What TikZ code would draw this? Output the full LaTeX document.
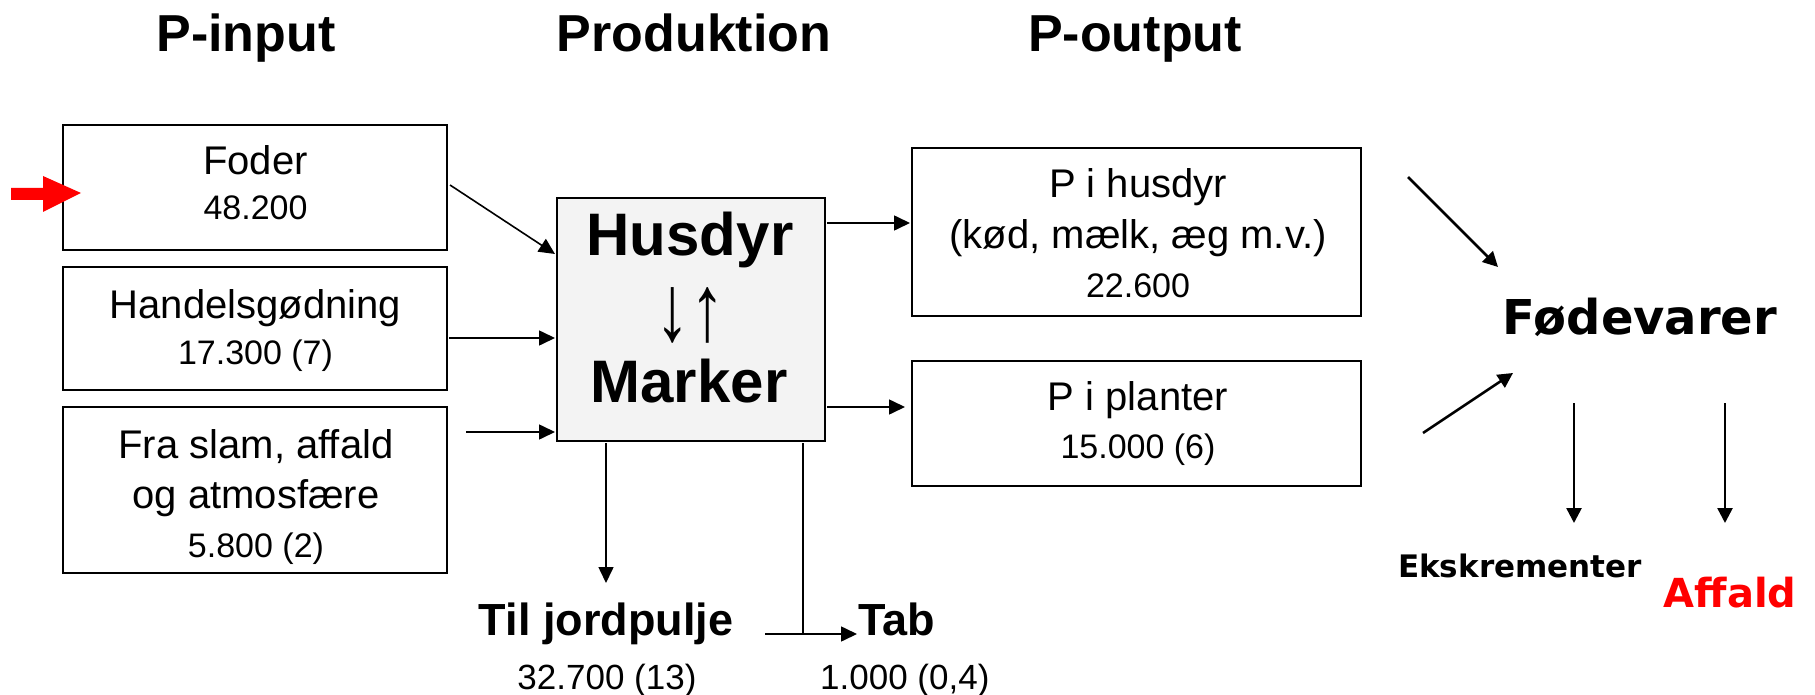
\documentclass[tikz,border=0pt]{standalone}
\usepackage{fontspec}
\setmainfont{Liberation Sans}
\newfontfamily\dvs{DejaVu Sans}
\usetikzlibrary{arrows.meta}
\definecolor{husgray}{HTML}{F3F3F3}
\definecolor{pred}{HTML}{FF0000}
\begin{document}
\begin{tikzpicture}[x=1pt,y=-1pt,
  box/.style={draw=black, line width=2.8pt, inner sep=0pt},
  inbox/.style={box, minimum width=384pt},
  outbox/.style={box, minimum width=449pt},
  txt/.style={anchor=base, inner sep=0pt, font=\fontsize{40}{50}\selectfont},
  num/.style={anchor=base, inner sep=0pt, font=\fontsize{34}{40}\selectfont},
  flow/.style={line width=1.6pt, draw=black, -{Triangle[length=16pt,width=15pt]}},
  bigflow/.style={line width=2.6pt, draw=black, -{Triangle[length=15pt,width=15pt]}},
  head/.style={anchor=base, font=\fontsize{52}{60}\selectfont\bfseries},
  bold/.style={anchor=base, inner sep=0pt, font=\fontsize{45}{50}\selectfont\bfseries}
]
\useasboundingbox (0,0) rectangle (1815,695);

% headings
\node[head] (hin) at (246,52) {P-input};
\node[head] (hprod) at (694,52) {Produktion};
\node[head] (hout) at (1135,52) {P-output};

% input boxes
\node[inbox, minimum height=125pt] (foder) at (255,187.5) {};
\node[txt] (foder1) at (255.5,175) {Foder};
\node[num] (foder2) at (255.5,220) {48.200};

\node[inbox, minimum height=123pt] (handel) at (255,328.5) {};
\node[txt] (handel1) at (255.5,318) {Handelsgødning};
\node[num] (handel2) at (255.5,364) {17.300 (7)};

\node[inbox, minimum height=166pt] (slam) at (255,490) {};
\node[txt] (slam1) at (256,458) {Fra slam, affald};
\node[txt] (slam2) at (256,508) {og atmosfære};
\node[num] (slam3) at (256,557) {5.800 (2)};

% red arrow
\fill[pred] (11,188) -- (43,188) -- (43,176) -- (81,193) -- (43,212) -- (43,200) -- (11,200) -- cycle;

% production box
\node[box, fill=husgray, minimum width=268pt, minimum height=243pt] (husdyr) at (691,319.5) {};
\node[anchor=base, font=\fontsize{60}{60}\selectfont\bfseries] (husl) at (690,255) {Husdyr};
\node[inner sep=0pt, font=\fontsize{60}{60}\selectfont] (arr) at (690,315.5) {\scalebox{1.15}[1.57]{↓↑}};
\node[anchor=base, font=\fontsize{60}{60}\selectfont\bfseries] (mark) at (689,402) {Marker};

% output boxes
\node[outbox, minimum height=168pt] (phus) at (1136.5,232) {};
\node[txt] (phus1) at (1138,198) {P i husdyr};
\node[txt] (phus2) at (1138,248) {(kød, mælk, æg m.v.)};
\node[num] (phus3) at (1138,297) {22.600};

\node[outbox, minimum height=125pt] (pplant) at (1136.5,423.5) {};
\node[txt] (pplant1) at (1138,410) {P i planter};
\node[num] (pplant2) at (1138,458) {15.000 (6)};

% bottom labels
\node[bold] (jord) at (606,635) {Til jordpulje};
\node[num, font=\fontsize{35}{40}\selectfont] (jordn) at (607,689) {32.700 (13)};
\node[bold, anchor=base west] (tab) at (858,635) {Tab};
\node[num, anchor=base west, font=\fontsize{35}{40}\selectfont] (tabn) at (820,689) {1.000 (0,4)};

% food labels
\node[anchor=base, font=\dvs\bfseries\fontsize{48}{50}\selectfont] (food) at (1640,334) {Fødevarer};
\node[anchor=base, font=\dvs\bfseries\fontsize{31}{40}\selectfont] (eks) at (1520,577) {Ekskrementer};
\node[anchor=base, font=\dvs\bfseries\fontsize{40}{45}\selectfont, text=pred] (aff) at (1730,607) {Affald};

% coordinates for connectors
\coordinate (c1a) at (450,185);
\coordinate (c1b) at (555,254);
\coordinate (c2a) at (449,338);
\coordinate (c2b) at (555,338);
\coordinate (c3a) at (466,432);
\coordinate (c3b) at (555,432);
\coordinate (o1a) at (827,223);
\coordinate (o1b) at (910,223);
\coordinate (o2a) at (827,407);
\coordinate (o2b) at (905,407);
\coordinate (jtop) at (606,443);
\coordinate (jbot) at (606,583);
\coordinate (ttop) at (803,443);
\coordinate (tcor) at (803,634);
\coordinate (tleft) at (765,634);
\coordinate (ttip) at (857,634);
\coordinate (f1a) at (1408,177);
\coordinate (f1b) at (1498,267);
\coordinate (f2a) at (1423,433);
\coordinate (f2b) at (1513,373);
\coordinate (e1a) at (1574,403);
\coordinate (e1b) at (1574,523);
\coordinate (e2a) at (1725,403);
\coordinate (e2b) at (1725,523);

% connectors
\draw[flow] (c1a) -- (c1b);
\draw[flow] (c2a) -- (c2b);
\draw[flow] (c3a) -- (c3b);
\draw[flow] (o1a) -- (o1b);
\draw[flow] (o2a) -- (o2b);
\draw[flow] (jtop) -- (jbot);
\draw[line width=1.6pt] (ttop) -- (tcor);
\draw[flow] (tleft) -- (ttip);
\draw[bigflow] (f1a) -- (f1b);
\draw[bigflow] (f2a) -- (f2b);
\draw[bigflow] (e1a) -- (e1b);
\draw[bigflow] (e2a) -- (e2b);
\end{tikzpicture}
\end{document}
